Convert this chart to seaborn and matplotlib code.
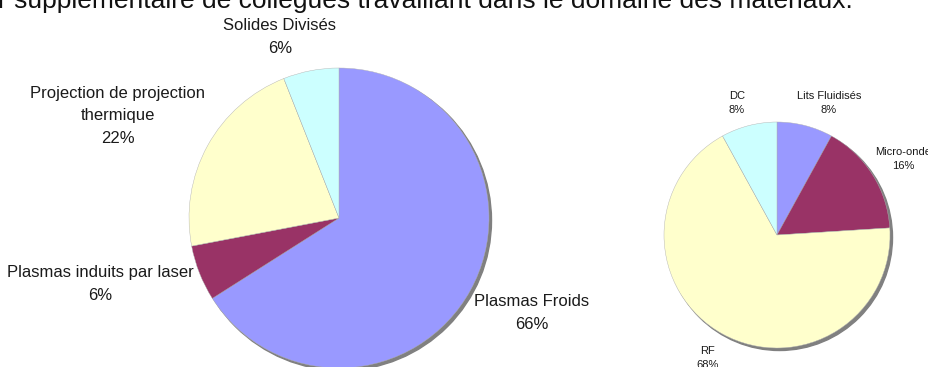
import matplotlib.pyplot as plt
import seaborn as sns
from matplotlib.patches import Circle

sns.set_theme(style="white")
plt.rcParams['font.family'] = ['Liberation Sans', 'DejaVu Sans']

# Data
big_labels = ['Plasmas Froids', 'Plasmas induits par laser',
              'Projection de projection\nthermique', 'Solides Divisés']
big_values = [66, 6, 22, 6]

small_labels = ['Lits Fluidisés', 'Micro-onde', 'RF', 'DC']
small_values = [8, 16, 68, 8]

colors = ['#9999FF', '#993366', '#FFFFCC', '#CCFFFF']
palette = sns.color_palette(colors)

title = "r supplémentaire de collègues travaillant dans le domaine des matériaux."

# label anchor points (pixel coords, y from top)
big_label_pos = [(532, 313), (100, 284), (118, 116), (280, 37)]
small_label_pos = [(829, 103), (903, 159), (708, 358), (737, 103)]

W, H = 929, 367
fig = plt.figure(figsize=(W / 100, H / 100), dpi=100)
ax = fig.add_axes([0, 0, 1, 1])


def draw_pie(values, labels, pos, center, radius, fs, ls):
    cx, cy = center
    ax.add_patch(Circle((cx + 2.5, H - cy - 2.5), radius, color='#808080', zorder=1))
    wedges, _ = ax.pie(values, colors=palette, startangle=90, counterclock=False,
                       center=(cx, H - cy), radius=radius, frame=True,
                       wedgeprops=dict(linewidth=0.3, edgecolor='#b0b0b0'))
    for w in wedges:
        w.set_zorder(2)
    for lab, v, (x, y) in zip(labels, values, pos):
        ax.text(x, H - y, f"{lab}\n{v}%", ha='center', va='center',
                fontsize=fs, linespacing=ls, color='#1a1a1a', zorder=3)


draw_pie(big_values, big_labels, big_label_pos, (339, 218), 150, 12, 1.65)
draw_pie(small_values, small_labels, small_label_pos, (777, 235), 113, 8, 1.55)

ax.set_xlim(0, W)
ax.set_ylim(0, H)
ax.set_aspect('equal')
ax.axis('off')

fig.text(-2 / W, 1 - 8 / H, title, fontsize=19, va='baseline', ha='left',
         color='#111111')

fig.savefig('out.png', dpi=100)
